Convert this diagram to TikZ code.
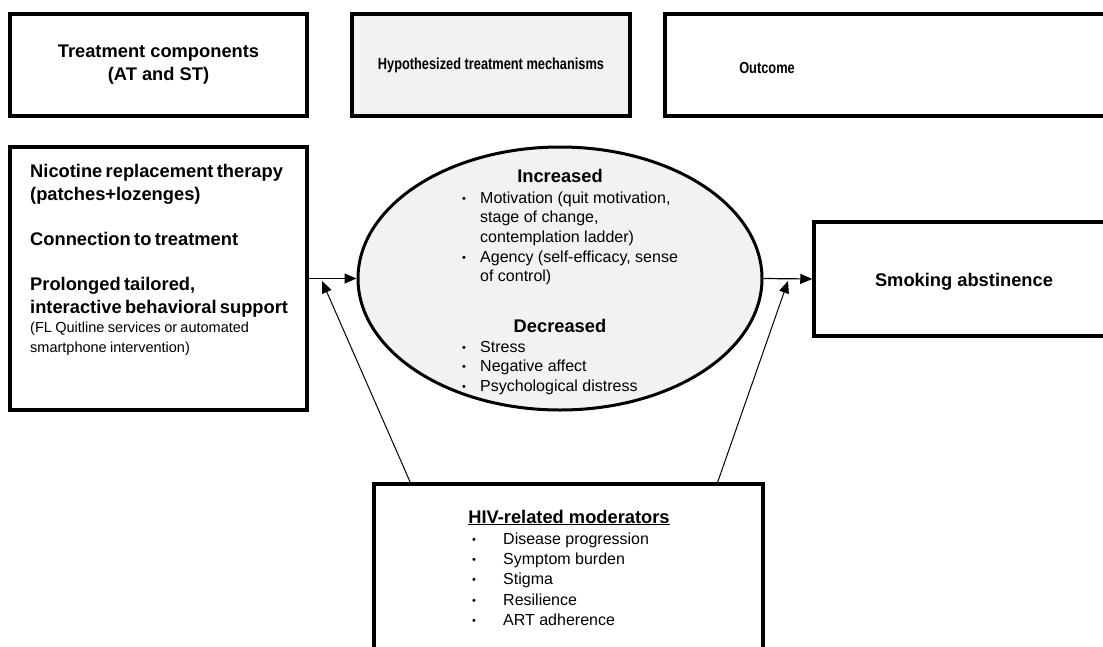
\documentclass[tikz,border=0pt]{standalone}
\usepackage{fontspec}
\setmainfont{Liberation Sans}
\usepackage{graphicx}
\usetikzlibrary{arrows.meta,shapes.geometric}

\newcommand{\hfont}{\fontsize{18.3}{23}\selectfont\bfseries}
\newcommand{\bfont}{\fontsize{16}{19.7}\selectfont}
\newcommand{\sfont}{\fontsize{14.5}{19.5}\selectfont}
\newcommand{\cfont}{\fontsize{16}{20}\selectfont\bfseries}
\newcommand{\ebul}{\raisebox{1pt}{\fontsize{11}{11}\selectfont\textbullet}}

\begin{document}
\begin{tikzpicture}[
    x=1pt,
    y=-1pt,
    >={Triangle[length=12pt,width=10pt]},
    box/.style={draw, rectangle, line width=3.5pt, inner sep=0pt},
    lbl/.style={inner sep=0pt, align=center},
    conn/.style={->, line width=1.2pt},
  ]
  \useasboundingbox (0,0) rectangle (1103,646);
  \clip (0,0) rectangle (1103,646);

  % column heads
  \node[box, lbl, minimum width=297pt, minimum height=102pt, font=\hfont] (tcomp) at (158.5,65) {Treatment components\\(AT and ST)};
  \node[box, fill=gray!10, minimum width=278pt, minimum height=102pt, font=\cfont] (tmech) at (491,65) {\scalebox{0.8}[1]{Hypothesized treatment mechanisms}};
  \node[box, minimum width=475pt, minimum height=102pt] (toutc) at (902.5,65) {};
  \node[lbl, font=\cfont] (toutt) at (767,68) {\scalebox{0.8}[1]{Outcome}};

  % treatment components
  \node[box, minimum width=297pt, minimum height=263pt] (ntx) at (158.5,278.5) {};
  \node[anchor=north west, inner sep=0pt, text width=275pt] (ntxt) at (30,164) {%
    \setlength{\parindent}{0pt}%
    {\hfont Nicotine replacement therapy\\(patches+lozenges)\par}
    \vspace{22pt}
    {\hfont Connection to treatment\par}
    \vspace{22pt}
    {\hfont Prolonged tailored,\\interactive behavioral support\par}
    {\sfont (FL Quitline services or automated\\smartphone intervention)\par}};

  % mechanisms
  \node[draw, ellipse, line width=3pt, fill=gray!10, minimum width=404pt, minimum height=263pt, inner sep=0pt] (mech) at (560,278.5) {};
  \node[anchor=base, inner sep=0pt, font=\hfont] (hinc) at (560,182) {Increased};
  \node[anchor=base west, inner sep=0pt, font=\bfont] (linc) at (462,203) {%
    \begin{tabular}[t]{@{}p{18pt}@{}l@{}}
      \ebul & Motivation (quit motivation,\\
            & stage of change,\\
            & contemplation ladder)\\
      \ebul & Agency (self-efficacy, sense\\
            & of control)
    \end{tabular}};
  \node[anchor=base, inner sep=0pt, font=\hfont] (hdec) at (560,332) {Decreased};
  \node[anchor=base west, inner sep=0pt, font=\bfont] (ldec) at (462,352) {%
    \begin{tabular}[t]{@{}p{18pt}@{}l@{}}
      \ebul & Stress\\
      \ebul & Negative affect\\
      \ebul & Psychological distress
    \end{tabular}};

  % outcome
  \node[box, minimum width=326pt, minimum height=114pt] (outc) at (977,279) {};
  \node[lbl, font=\hfont] (outt) at (964,282) {Smoking abstinence};

  % moderators
  \node[box, minimum width=389pt, minimum height=216pt] (mod) at (568.5,592) {};
  \node[anchor=base, inner sep=0pt, font=\hfont] (hmod) at (569,523) {\underline{HIV-related moderators}};
  \node[anchor=base west, inner sep=0pt, font=\fontsize{16}{20.4}\selectfont] (lmod) at (472,544) {%
    \begin{tabular}[t]{@{}p{31pt}@{}l@{}}
      \ebul & Disease progression\\
      \ebul & Symptom burden\\
      \ebul & Stigma\\
      \ebul & Resilience\\
      \ebul & ART adherence
    \end{tabular}};

  % connectors
  \coordinate (mlft) at (322,281);
  \coordinate (mrgt) at (788,281);
  \coordinate (mbl) at (411,484);
  \coordinate (mbr) at (717,484);
  \draw[conn] (ntx.east) -- (mech.west);
  \draw[conn] (mech.east) -- (outc.west);
  \draw[conn, line width=1pt] (mbl) -- (mlft);
  \draw[conn, line width=1pt] (mbr) -- (mrgt);
\end{tikzpicture}
\end{document}
